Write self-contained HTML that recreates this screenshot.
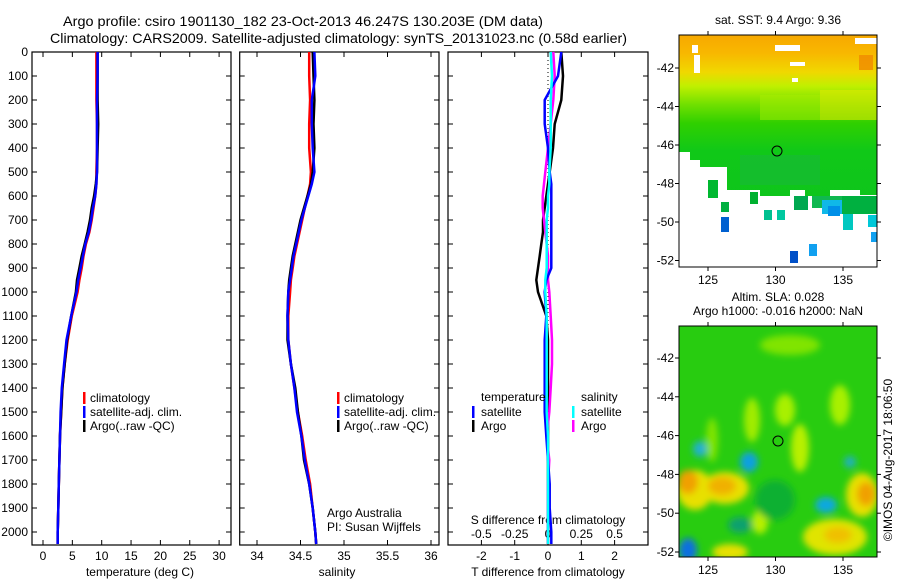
<!DOCTYPE html>
<html><head><meta charset="utf-8"><style>
body{margin:0;background:#fff;}
svg{display:block;font-family:"Liberation Sans",sans-serif;}
text{fill:#000;}
</style></head><body>
<svg id="fig" width="900" height="580" viewBox="0 0 900 580">
<defs>
<linearGradient id="sstg" x1="0" y1="0" x2="0" y2="1">
<stop offset="0" stop-color="#f7a800"/><stop offset="0.08" stop-color="#f8b800"/>
<stop offset="0.16" stop-color="#f0d800"/><stop offset="0.22" stop-color="#c0f000"/>
<stop offset="0.3" stop-color="#70e000"/><stop offset="0.38" stop-color="#30d000"/>
<stop offset="0.5" stop-color="#10c818"/><stop offset="1" stop-color="#0cc020"/></linearGradient>
<filter id="blur"><feGaussianBlur stdDeviation="3.5"/></filter>
<clipPath id="clipB"><rect x="679" y="326" width="198" height="231"/></clipPath>
</defs>
<text x="63" y="26" font-size="14" textLength="480" lengthAdjust="spacingAndGlyphs">Argo profile: csiro 1901130_182 23-Oct-2013 46.247S 130.203E (DM data)</text>
<text x="50" y="43" font-size="14" textLength="577" lengthAdjust="spacingAndGlyphs">Climatology: CARS2009. Satellite-adjusted climatology: synTS_20131023.nc (0.58d earlier)</text>
<g id="plots"></g>

<!-- SST map -->
<g>
<text x="778" y="24" font-size="12" text-anchor="middle">sat. SST: 9.4  Argo: 9.36</text>
<rect x="679" y="35" width="198" height="232" fill="url(#sstg)"/>
<rect x="820" y="90" width="57" height="30" fill="#e0e800" opacity="0.6"/>
<rect x="760" y="95" width="60" height="25" fill="#a8ec00" opacity="0.5"/>
<rect x="740" y="155" width="80" height="30" fill="#20b050" opacity="0.35"/>
<path d="M679 152 L690 152 L690 160 L700 160 L700 167 L727 167 L727 190 L760 190 L760 196 L790 196 L790 190 L805 190 L805 196 L830 196 L830 190 L860 190 L860 195 L877 195 L877 267 L679 267 Z" fill="#fff"/>
<rect x="708" y="180" width="10" height="18" fill="#00b830"/><rect x="750" y="192" width="8" height="12" fill="#00b030"/>
<rect x="794" y="196" width="14" height="14" fill="#00a850"/><rect x="812" y="196" width="30" height="12" fill="#10b850"/>
<rect x="822" y="200" width="20" height="14" fill="#10b8e8"/><rect x="828" y="206" width="12" height="10" fill="#0090e8"/>
<rect x="842" y="196" width="35" height="18" fill="#00b040"/><rect x="843" y="214" width="10" height="16" fill="#00c8c0"/>
<rect x="721" y="202" width="8" height="10" fill="#00b040"/><rect x="721" y="217" width="8" height="15" fill="#0060d0"/>
<rect x="764" y="210" width="8" height="10" fill="#00c090"/><rect x="777" y="210" width="8" height="10" fill="#00c8a0"/>
<rect x="871" y="232" width="6" height="10" fill="#10a0f0"/><rect x="809" y="244" width="8" height="12" fill="#10a0f0"/>
<rect x="790" y="251" width="8" height="12" fill="#0050c8"/><rect x="868" y="215" width="9" height="12" fill="#00c8d8"/>
<rect x="692" y="45" width="6" height="8" fill="#fff"/><rect x="694" y="55" width="6" height="18" fill="#fff"/>
<rect x="775" y="45" width="25" height="6" fill="#fff"/><rect x="790" y="62" width="15" height="4" fill="#fff"/>
<rect x="855" y="38" width="22" height="6" fill="#fff"/><rect x="792" y="78" width="6" height="4" fill="#fff"/>
<rect x="859" y="55" width="14" height="15" fill="#f08a00" opacity="0.8"/>
<rect x="679" y="35" width="198" height="232" fill="none" stroke="#000" stroke-width="1"/>
<circle cx="777" cy="151" r="5" fill="none" stroke="#000"/>
</g>
<g id="mapaxes"></g>

<!-- SLA map -->
<g>
<text x="778" y="301" font-size="12" text-anchor="middle">Altim. SLA: 0.028</text>
<text x="778" y="315" font-size="12" text-anchor="middle">Argo h1000: -0.016 h2000: NaN</text>
<g clip-path="url(#clipB)">
<rect x="679" y="326" width="198" height="231" fill="#28cc10"/>
<g filter="url(#blur)">
<ellipse cx="695" cy="490" rx="18" ry="20" fill="#e8e000"/>
<ellipse cx="688" cy="482" rx="10" ry="12" fill="#f0a000"/>
<ellipse cx="725" cy="488" rx="24" ry="16" fill="#e8e000"/>
<ellipse cx="722" cy="486" rx="14" ry="9" fill="#f0b000"/>
<ellipse cx="862" cy="495" rx="16" ry="22" fill="#e8e000"/>
<ellipse cx="866" cy="494" rx="9" ry="12" fill="#f0a000"/>
<ellipse cx="835" cy="537" rx="32" ry="18" fill="#e0e400"/>
<ellipse cx="838" cy="535" rx="14" ry="8" fill="#f0c000"/>
<ellipse cx="730" cy="552" rx="18" ry="8" fill="#e8e000"/>
<ellipse cx="800" cy="448" rx="9" ry="24" fill="#b8f000"/>
<ellipse cx="785" cy="410" rx="10" ry="16" fill="#a8f000"/>
<ellipse cx="840" cy="405" rx="10" ry="20" fill="#a8f000"/>
<ellipse cx="752" cy="420" rx="8" ry="22" fill="#a0ec00"/>
<ellipse cx="712" cy="440" rx="6" ry="22" fill="#80e400"/>
<ellipse cx="760" cy="522" rx="8" ry="12" fill="#b8f000"/>
<ellipse cx="790" cy="345" rx="30" ry="10" fill="#80e400"/>
<ellipse cx="775" cy="500" rx="20" ry="20" fill="#10b030"/>
<ellipse cx="700" cy="449" rx="7" ry="8" fill="#20b0d0"/>
<ellipse cx="749" cy="462" rx="9" ry="10" fill="#10a0e0"/>
<ellipse cx="826" cy="505" rx="11" ry="8" fill="#10a8e0"/>
<ellipse cx="688" cy="550" rx="9" ry="12" fill="#1070e0"/>
<ellipse cx="740" cy="525" rx="12" ry="8" fill="#10a070"/>
<ellipse cx="850" cy="462" rx="6" ry="6" fill="#20b0c0"/>
</g>
</g>
<rect x="679" y="326" width="198" height="231" fill="none" stroke="#000" stroke-width="1"/>
<circle cx="778" cy="441" r="5" fill="none" stroke="#000"/>
</g>
<text transform="translate(892,460) rotate(-90)" font-size="12" text-anchor="middle">©IMOS 04-Aug-2017 18:06:50</text>
</svg>
<script>
// ---- data ----
const depths   = [0,100,200,300,400,500,550,600,650,700,750,800,850,900,950,1000,1100,1200,1300,1400,1500,1600,1700,1800,1900,2000,2050];
const tempClim = [9.1,9.1,9.1,9.2,9.2,9.1,9.1,8.9,8.6,8.3,7.9,7.3,6.9,6.6,6.2,5.9,4.9,4.2,3.7,3.3,3.1,2.9,2.8,2.7,2.6,2.5,2.5];
const tempSat  = [9.3,9.3,9.2,9.2,9.2,9.2,9.1,8.9,8.5,8.2,7.8,7.2,6.8,6.4,6.0,5.7,4.8,4.0,3.6,3.2,3.0,2.9,2.8,2.7,2.6,2.5,2.5];
const tempArgo = [9.3,9.3,9.3,9.4,9.3,9.2,9.0,8.7,8.3,8.0,7.6,7.1,6.6,6.2,5.8,5.6,4.8,4.1,3.7,3.3,3.1,2.9,2.8,2.7,2.6,2.5,2.5];
const salClim  = [34.6,34.6,34.61,34.6,34.6,34.62,34.61,34.58,34.55,34.52,34.49,34.46,34.43,34.41,34.39,34.38,34.36,34.36,34.39,34.43,34.47,34.52,34.56,34.61,34.64,34.67,34.68];
const salSat   = [34.66,34.67,34.63,34.63,34.64,34.66,34.63,34.59,34.55,34.51,34.48,34.45,34.42,34.4,34.38,34.36,34.35,34.36,34.39,34.43,34.46,34.51,34.55,34.6,34.64,34.67,34.68];
const salArgo  = [34.64,34.65,34.66,34.65,34.66,34.64,34.62,34.58,34.54,34.5,34.47,34.44,34.41,34.39,34.37,34.36,34.35,34.35,34.39,34.44,34.47,34.51,34.54,34.6,34.64,34.67,34.68];
const dTsat    = [0.4,0.3,-0.1,-0.1,0,0.05,0.1,0.1,0.1,0.1,0.1,0.1,0.1,0.1,-0.05,-0.1,-0.05,-0.1,-0.1,-0.1,-0.1,-0.05,0,0.05,0.05,0.1,0.1];
const dTargo   = [0.4,0.45,0.4,0.2,0.15,0.05,0,-0.05,-0.1,-0.15,-0.15,-0.2,-0.25,-0.3,-0.35,-0.3,-0.05,0,0,0,0,0,0,0,0,0,0];
const dSsat    = [0.02,0.03,0.02,0.02,0.02,0.01,0.01,0.0,0.0,-0.01,-0.01,-0.01,-0.01,-0.01,-0.02,-0.02,-0.01,-0.01,-0.01,-0.01,-0.01,0,0,0,0,0,0];
const dSargo   = [0.04,0.05,0.04,0.02,0.0,-0.02,-0.03,-0.04,-0.04,-0.03,-0.02,-0.01,0,0,0,0.01,0.02,0.03,0.03,0.02,0.01,-0.01,0.01,0,0,0,0];
const depthTicks = [0,100,200,300,400,500,600,700,800,900,1000,1100,1200,1300,1400,1500,1600,1700,1800,1900,2000];
const tempTicks  = [0,5,10,15,20,25,30];
const salTicks   = [34,34.5,35,35.5,36];
const dTTicks    = [-2,-1,0,1,2];
const dSTicks    = [-0.5,-0.25,0,0.25,0.5];
const lonTicks   = [125,130,135];
const latTicks   = [-42,-44,-46,-48,-50,-52];

const NS="http://www.w3.org/2000/svg";
const g=document.getElementById('plots');
function mk(tag,attrs,parent){const e=document.createElementNS(NS,tag);for(const k in attrs)e.setAttribute(k,attrs[k]);(parent||g).appendChild(e);return e;}
const yD = d => 52 + d*0.24;
const PT=52, PB=545;
function panel(x0,x1,name){
  const r=mk('rect',{x:x0,y:PT,width:x1-x0,height:PB-PT,fill:'none',stroke:'#000','stroke-width':1.2});
  
  
  depthTicks.forEach(d=>{mk('line',{x1:x0,x2:x0+5,y1:yD(d),y2:yD(d),stroke:'#000'});mk('line',{x1:x1,x2:x1-5,y1:yD(d),y2:yD(d),stroke:'#000'});});
}
function xticks(vals,fx,x0,labY){
  vals.forEach(v=>{const x=fx(v);mk('line',{x1:x,x2:x,y1:PB,y2:PB-5,stroke:'#000'});mk('line',{x1:x,x2:x,y1:PT,y2:PT+5,stroke:'#000'});
  const t=mk('text',{x:x,y:labY,'font-size':12,'text-anchor':'middle'});t.textContent=String(v);
  
  });
}
function line(vals,fx,color,name){
  const p=vals.map((v,i)=>fx(v).toFixed(1)+','+yD(depths[i]).toFixed(1)).join(' ');
  const e=mk('polyline',{points:p,fill:'none',stroke:color,'stroke-width':2.5,'stroke-linejoin':'round'});
  
  
}
function txt(x,y,s,name,anchor){const t=mk('text',{x:x,y:y,'font-size':12,'text-anchor':anchor||'start'});t.textContent=s;
  
  return t;}
function legMark(x,y,c){mk('rect',{x:x,y:y-10,width:2.5,height:12,fill:c});}

depthTicks.forEach(d=>{txt(28,yD(d)+4,String(d),'y-tick-label','end');});

// panel 1 temperature
const fT=v=>43+v*5.87;
panel(32,231,'temperature-panel');
xticks(tempTicks,fT,32,560);
txt(140,576,'temperature (deg C)','x-axis-title-temperature','middle');
line(tempClim,fT,'#ff0000','temp-climatology-line');
line(tempArgo,fT,'#000000','temp-argo-line');
line(tempSat,fT,'#0000ff','temp-satellite-line');
legMark(83,402,'#f00');txt(90,402,'climatology','legend-climatology');
legMark(83,416,'#00f');txt(90,416,'satellite-adj. clim.','legend-satellite');
legMark(83,430,'#000');txt(90,430,'Argo(..raw -QC)','legend-argo');

// panel 2 salinity
const fS=v=>257+(v-34)*87;
panel(239.7,439,'salinity-panel');
xticks(salTicks,fS,239,560);
txt(337,576,'salinity','x-axis-title-salinity','middle');
line(salClim,fS,'#ff0000','sal-climatology-line');
line(salArgo,fS,'#000000','sal-argo-line');
line(salSat,fS,'#0000ff','sal-satellite-line');
legMark(337,402,'#f00');txt(344,402,'climatology','legend-climatology-2');
legMark(337,416,'#00f');txt(344,416,'satellite-adj. clim.','legend-satellite-2');
legMark(337,430,'#000');txt(344,430,'Argo(..raw -QC)','legend-argo-2');
txt(327,517,'Argo Australia','credit-line-1');
txt(327,531,'PI: Susan Wijffels','credit-line-2');

// panel 3 differences
const fDT=v=>548+v*33.3, fDS=v=>548+v*133.2;
panel(448,648,'difference-panel');
xticks(dTTicks,fDT,448,560);
dSTicks.forEach(v=>{txt(fDS(v),538,String(v),'s-tick-label','middle');});
txt(548,524,'S difference from climatology','s-axis-title','middle');
txt(548,576,'T difference from climatology','x-axis-title-tdiff','middle');
mk('line',{x1:fDT(0),x2:fDT(0),y1:PT,y2:PB,stroke:'#000','stroke-dasharray':'1,3'});
line(dTargo,fDT,'#000000','tdiff-argo-line');
line(dSargo,fDS,'#ff00ff','sdiff-argo-line');
line(dTsat,fDT,'#0000ff','tdiff-satellite-line');
line(dSsat,fDS,'#00ffff','sdiff-satellite-line');
txt(481,401,'temperature','legend-temperature-heading');
legMark(472,416,'#00f');txt(481,416,'satellite','legend-t-satellite');
legMark(472,430,'#000');txt(481,430,'Argo','legend-t-argo');
txt(581,401,'salinity','legend-salinity-heading');
legMark(572,416,'#0ff');txt(581,416,'satellite','legend-s-satellite');
legMark(572,430,'#f0f');txt(581,430,'Argo','legend-s-argo');

// map axes
function mapAxes(x0,x1,y0,y1,lat42y,latStep,labY){
  const fx=lon=>708+(lon-125)*13.5;
  const fy=lat=>lat42y+(-42-lat)*latStep;
  lonTicks.forEach(l=>{const x=fx(l);mk('line',{x1:x,x2:x,y1:y0,y2:y0-4,stroke:'#000'});mk('line',{x1:x,x2:x,y1:y1,y2:y1+4,stroke:'#000'});
    txt(x,labY,String(l),'lon-tick-label','middle');});
  latTicks.forEach(l=>{const y=fy(l);mk('line',{x1:x0,x2:x0-4,y1:y,y2:y,stroke:'#000'});mk('line',{x1:x1,x2:x1+4,y1:y,y2:y,stroke:'#000'});
    txt(x0-5,y+4,String(l),'lat-tick-label','end');});
}
mapAxes(679,877,35,267,68,19.25,284);
mapAxes(679,877,326,557,358,19.4,574);
</script>
</body></html>
